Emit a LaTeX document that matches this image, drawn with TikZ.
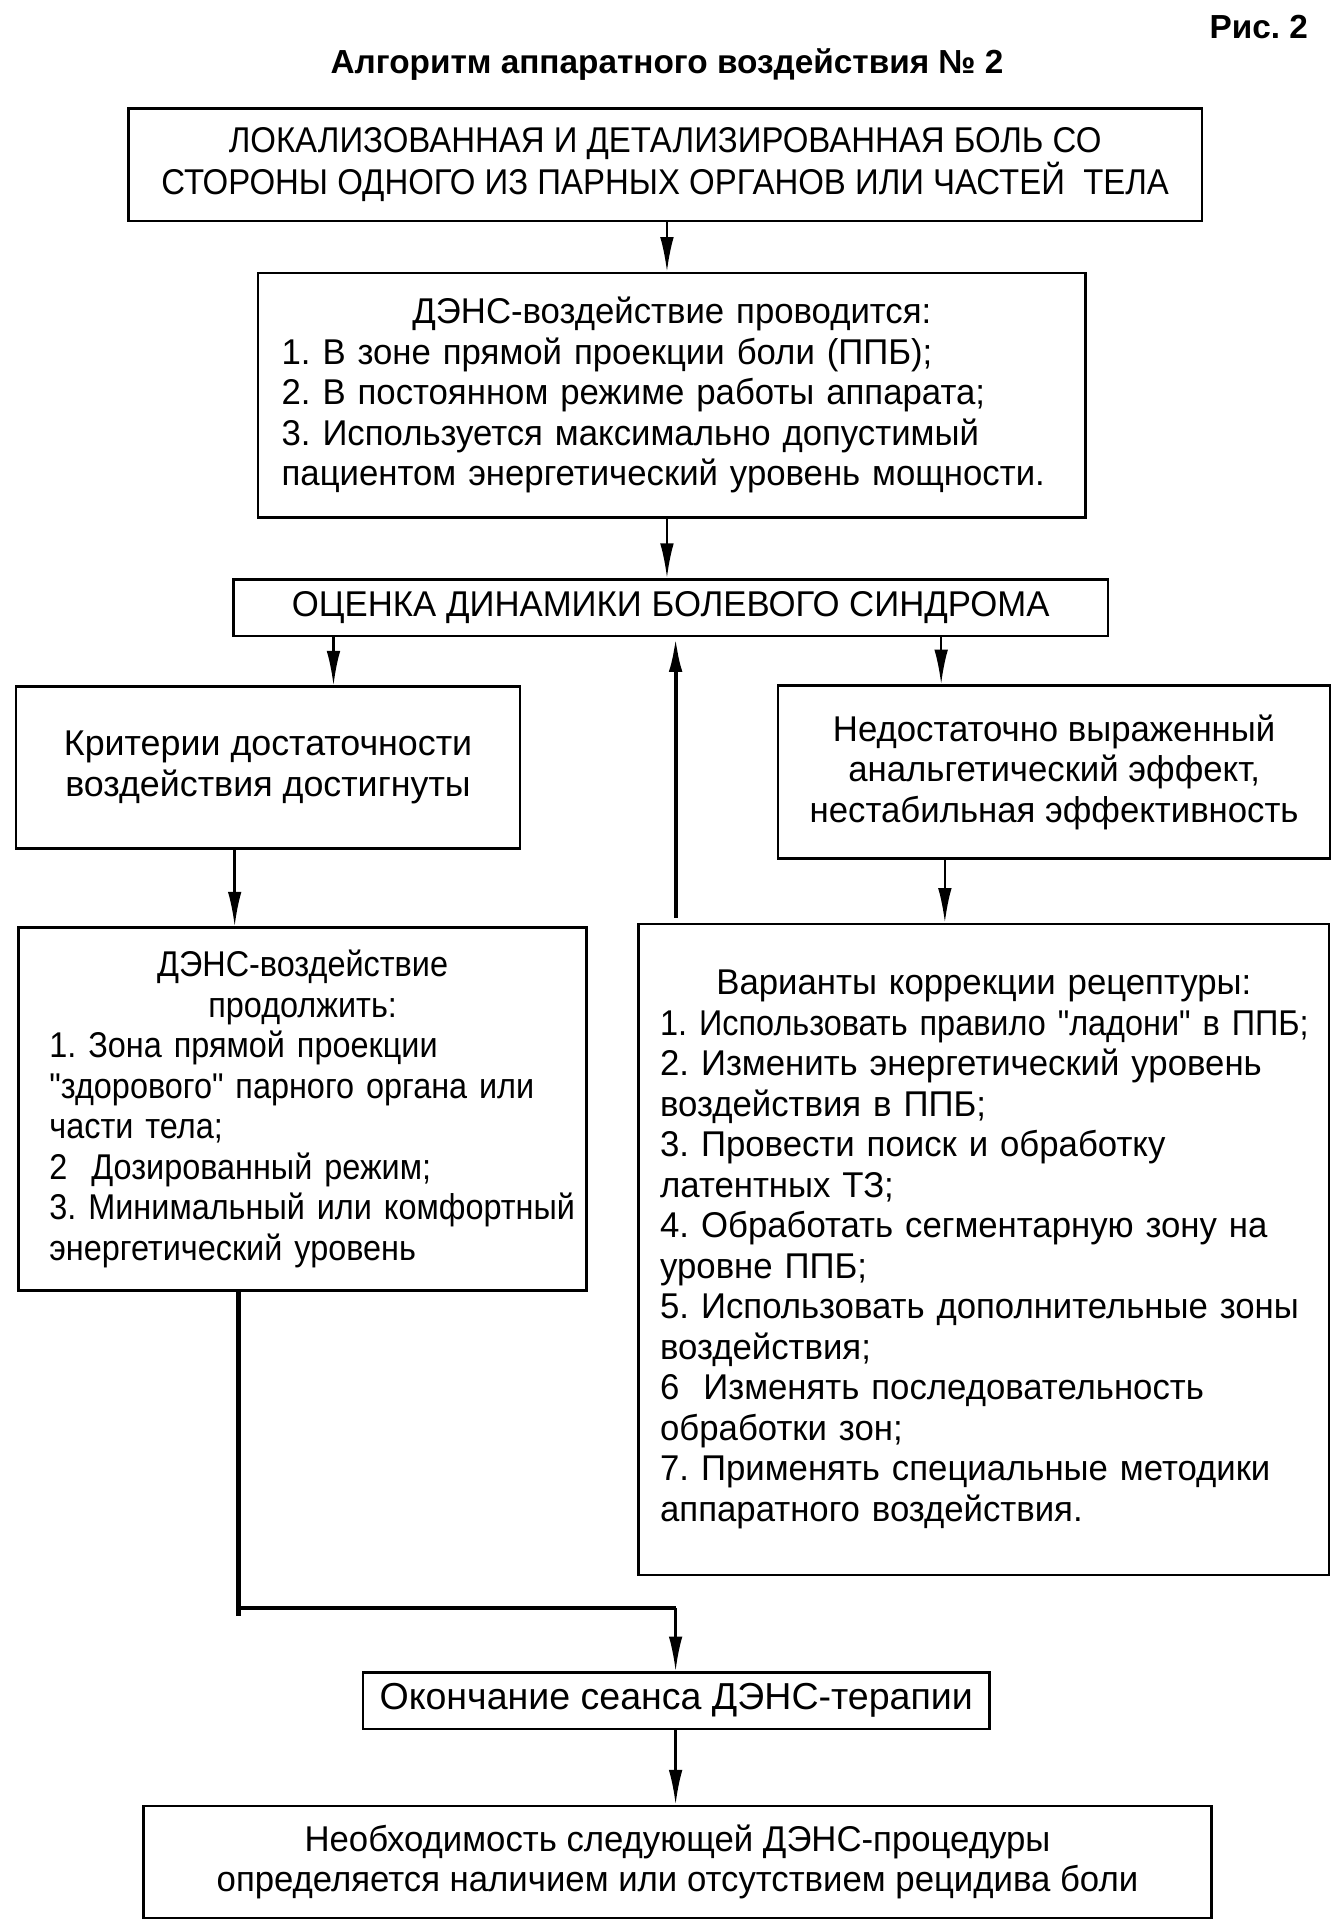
\documentclass[tikz,border=0pt]{standalone}
\usepackage{fontspec}
\setmainfont{Liberation Sans}[FakeStretch=0.97, Ligatures=TeXOff]
\newfontfamily\capsfont{Liberation Sans}[FakeStretch=0.92, Ligatures=TeXOff]
\newfontfamily\narrowfont{Liberation Sans}[FakeStretch=0.905, Ligatures=TeXOff]
\newfontfamily\widefont{Liberation Sans}[Ligatures=TeXOff]
\usetikzlibrary{arrows.meta,positioning}
\tikzstyle{box}=[rectangle, draw=black, line width=1, inner sep=0pt, font=\fontsize{14.5}{16.4}\selectfont]
\tikzstyle{l1}=[line width=1]
\tikzstyle{l2}=[line width=1.8]
\tikzstyle{arr}=[l1, -{Latex[length=14pt,width=5.5pt]}]

\begin{document}
\frenchspacing
\begin{tikzpicture}[x=0.5pt,y=-0.5pt]
    \useasboundingbox (0,0) rectangle (1085,1561);

    \node[font=\widefont\bfseries\fontsize{13.5}{16}\selectfont, anchor=east] (fig) at (1066,22) {Рис. 2};
    \node[font=\widefont\bfseries\fontsize{13.5}{16}\selectfont] (title) at (540,52) {Алгоритм аппаратного воздействия №~2};

    \node[box, minimum width=434.5pt, minimum height=45.5pt, align=center, font=\capsfont\fontsize{14.5}{15.5}\selectfont] (a) at (538.5,133.5)
        {ЛОКАЛИЗОВАННАЯ И ДЕТАЛИЗИРОВАННАЯ БОЛЬ СО\\СТОРОНЫ ОДНОГО ИЗ ПАРНЫХ ОРГАНОВ ИЛИ ЧАСТЕЙ~~ТЕЛА};
    \node[box, minimum width=335pt, minimum height=99pt, text width=316pt, align=left] (b) at (544,320)
        {{\centering ДЭНС-воздействие проводится:\par}
         1. В зоне прямой проекции боли (ППБ);\\
         2. В постоянном режиме работы аппарата;\\
         3. Используется максимально допустимый\\
         \mbox{пациентом энергетический уровень мощности.}};
    \node[box, minimum width=354pt, minimum height=23pt, align=center] (c) at (543,492)
        {ОЦЕНКА ДИНАМИКИ БОЛЕВОГО СИНДРОМА};
    \node[box, minimum width=204pt, minimum height=65.5pt, align=center, font=\widefont\fontsize{14.5}{16.4}\selectfont] (d) at (217,621.5)
        {Критерии достаточности\\воздействия достигнуты};
    \node[box, minimum width=223.5pt, minimum height=70pt, align=center] (f) at (853.5,625)
        {Недостаточно выраженный\\анальгетический эффект,\\нестабильная эффективность};
    \node[box, minimum width=230pt, minimum height=147pt, text width=205pt, align=left, font=\narrowfont\fontsize{14.5}{16.4}\selectfont] (e) at (245,898)
        {{\centering ДЭНС-воздействие\\продолжить:\par}
         1. Зона прямой проекции\\
         \mbox{"здорового" парного органа или}\\
         части тела;\\
         2~~Дозированный режим;\\
         \mbox{3. Минимальный или комфортный}\\
         энергетический уровень};
    \node[box, minimum width=279.5pt, minimum height=263.5pt, text width=262pt, align=left] (g) at (796.5,1011.5)
        {{\centering Варианты коррекции рецептуры:\par}
         \mbox{\narrowfont 1. Использовать правило "ладони" в ППБ;}\\
         2. Изменить энергетический уровень\\
         воздействия в ППБ;\\
         3. Провести поиск и обработку\\
         латентных ТЗ;\\
         4. Обработать сегментарную зону на\\
         уровне ППБ;\\
         \mbox{5. Использовать дополнительные зоны}\\
         воздействия;\\
         6~~Изменять последовательность\\
         обработки зон;\\
         7. Применять специальные методики\\
         аппаратного воздействия.};
    \node[box, minimum width=253.5pt, minimum height=23pt, align=center, font=\widefont\fontsize{15.2}{17}\selectfont] (h) at (547.5,1377)
        {Окончание сеанса ДЭНС-терапии};
    \node[box, minimum width=432.5pt, minimum height=45.5pt, align=center] (i) at (548.5,1507.5)
        {Необходимость следующей ДЭНС-процедуры\\определяется наличием или отсутствием рецидива боли};

    \draw[arr] (a.south -| 540,0) -- (b.north -| 540,0);
    \draw[arr] (b.south -| 540,0) -- (c.north -| 540,0);
    \draw[arr] (c.south -| 270,0) -- (d.north -| 270,0);
    \draw[arr] (c.south -| 762,0) -- (f.north -| 762,0);
    \draw[arr] (d.south -| 190,0) -- (e.north -| 190,0);
    \draw[arr] (f.south -| 765,0) -- (g.north -| 765,0);
    \draw[arr, line width=1.6, shorten <=2pt] (g.north -| 547,0) -- (c.south -| 547,0);

    \coordinate (j) at (547,1302);
    \draw[l2] (e.south -| 193,0) -- (193,1308);
    \draw[l2] (193,1302) -- (j);
    \draw[arr] (j) -- (j |- h.north);
    \draw[arr] (h.south -| 547,0) -- (i.north -| 547,0);
\end{tikzpicture}
\end{document}
